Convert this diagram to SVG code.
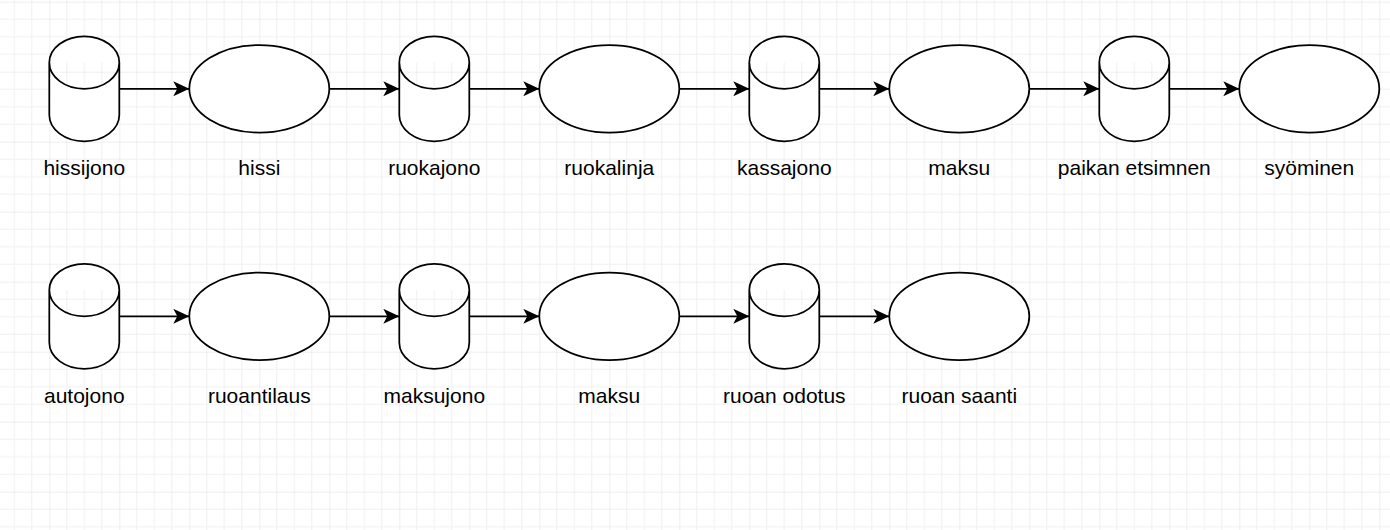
<svg xmlns="http://www.w3.org/2000/svg" width="1390" height="530" viewBox="0 0 1390 530">
<defs>
<pattern id="grid" patternUnits="userSpaceOnUse" x="-20.7" y="1.7" width="70" height="70">
<path d="M17.5,0V70M35,0V70M52.5,0V70M0,17.5H70M0,35H70M0,52.5H70" fill="none" stroke="#f0f0f0" stroke-width="1"/>
<path d="M0,0V70M0,0H70" fill="none" stroke="#e0e0e0" stroke-width="1"/>
</pattern>
<marker id="arrow" markerUnits="userSpaceOnUse" markerWidth="18" markerHeight="16" refX="16" refY="7.5" orient="auto">
<path d="M0,0 L16,7.5 L0,15 L4,7.5 Z" fill="#000"/>
</marker>
<path id="cyl" d="M0,26.25 A35,26.25 0 0 1 70,26.25 L70,78.75 A35,26.25 0 0 1 0,78.75 Z M0,26.25 A35,26.25 0 0 0 70,26.25"/>
</defs>
<style>
.shape{fill:#fff;stroke:#000;stroke-width:1.75}
.edge{fill:none;stroke:#000;stroke-width:1.75;marker-end:url(#arrow)}
.lbl{font-family:"Liberation Sans",Arial,sans-serif;font-size:21px;fill:#000;text-anchor:middle}
</style>
<rect width="1390" height="530" fill="#fff"/>
<rect width="1390" height="530" fill="url(#grid)"/>
<g id="connectors">
<path class="edge" d="M119.3,88.8H189.3"/>
<path class="edge" d="M329.3,88.8H399.3"/>
<path class="edge" d="M469.3,88.8H539.3"/>
<path class="edge" d="M679.3,88.8H749.3"/>
<path class="edge" d="M819.3,88.8H889.3"/>
<path class="edge" d="M1029.3,88.8H1099.3"/>
<path class="edge" d="M1169.3,88.8H1239.3"/>
<path class="edge" d="M119.3,316.3H189.3"/>
<path class="edge" d="M329.3,316.3H399.3"/>
<path class="edge" d="M469.3,316.3H539.3"/>
<path class="edge" d="M679.3,316.3H749.3"/>
<path class="edge" d="M819.3,316.3H889.3"/>
</g>
<g id="hissijono"><use href="#cyl" class="shape" transform="translate(49.3,36.3)"/><text class="lbl" x="84.3" y="175">hissijono</text></g>
<g id="hissi"><ellipse class="shape" cx="259.3" cy="88.8" rx="70" ry="43.75"/><text class="lbl" x="259.3" y="175">hissi</text></g>
<g id="ruokajono"><use href="#cyl" class="shape" transform="translate(399.3,36.3)"/><text class="lbl" x="434.3" y="175">ruokajono</text></g>
<g id="ruokalinja"><ellipse class="shape" cx="609.3" cy="88.8" rx="70" ry="43.75"/><text class="lbl" x="609.3" y="175">ruokalinja</text></g>
<g id="kassajono"><use href="#cyl" class="shape" transform="translate(749.3,36.3)"/><text class="lbl" x="784.3" y="175">kassajono</text></g>
<g id="maksu1"><ellipse class="shape" cx="959.3" cy="88.8" rx="70" ry="43.75"/><text class="lbl" x="959.3" y="175">maksu</text></g>
<g id="paikan"><use href="#cyl" class="shape" transform="translate(1099.3,36.3)"/><text class="lbl" x="1134.3" y="175">paikan etsimnen</text></g>
<g id="syominen"><ellipse class="shape" cx="1309.3" cy="88.8" rx="70" ry="43.75"/><text class="lbl" x="1309.3" y="175">syöminen</text></g>
<g id="autojono"><use href="#cyl" class="shape" transform="translate(49.3,263.8)"/><text class="lbl" x="84.3" y="402.5">autojono</text></g>
<g id="ruoantilaus"><ellipse class="shape" cx="259.3" cy="316.3" rx="70" ry="43.75"/><text class="lbl" x="259.3" y="402.5">ruoantilaus</text></g>
<g id="maksujono"><use href="#cyl" class="shape" transform="translate(399.3,263.8)"/><text class="lbl" x="434.3" y="402.5">maksujono</text></g>
<g id="maksu2"><ellipse class="shape" cx="609.3" cy="316.3" rx="70" ry="43.75"/><text class="lbl" x="609.3" y="402.5">maksu</text></g>
<g id="odotus"><use href="#cyl" class="shape" transform="translate(749.3,263.8)"/><text class="lbl" x="784.3" y="402.5">ruoan odotus</text></g>
<g id="saanti"><ellipse class="shape" cx="959.3" cy="316.3" rx="70" ry="43.75"/><text class="lbl" x="959.3" y="402.5">ruoan saanti</text></g>
</svg>
